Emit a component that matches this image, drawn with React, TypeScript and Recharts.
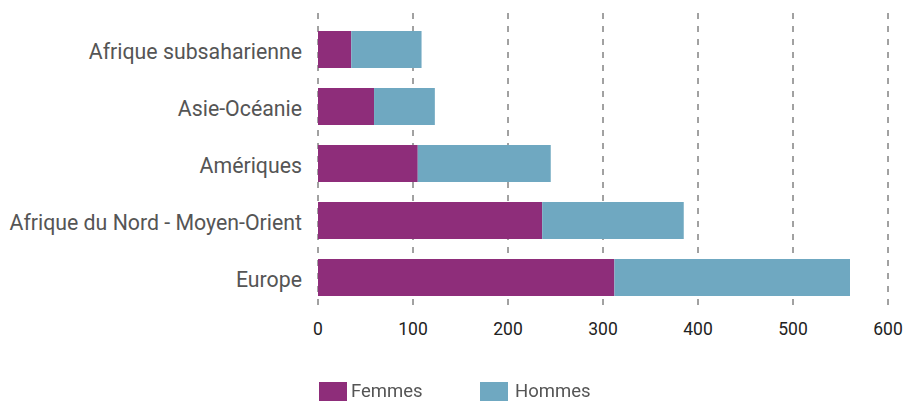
import { BarChart, Bar, XAxis, YAxis, CartesianGrid } from 'recharts';

const regions = [
  'Afrique subsaharienne',
  'Asie-Océanie',
  'Amériques',
  'Afrique du Nord - Moyen-Orient',
  'Europe',
];
const femmes = [35, 59, 105, 236, 312];
const hommes = [74, 64, 140, 149, 248];
const xTicks = [0, 100, 200, 300, 400, 500, 600];

const FEMMES_COLOR = '#8E2D7A';
const HOMMES_COLOR = '#6FA8C1';
const FONT = 'Roboto, "Noto Sans", sans-serif';

const data = regions.map((name, i) => ({
  name,
  femmes: femmes[i],
  hommes: hommes[i],
}));

const legendItems = [
  { label: 'Femmes', color: FEMMES_COLOR, left: 319, textLeft: 351 },
  { label: 'Hommes', color: HOMMES_COLOR, left: 480, textLeft: 515 },
];

export default function App() {
  return (
    <div style={{ position: 'fixed', top: 0, left: 0, width: 905, height: 401, fontFamily: FONT, background: '#fff' }}>
      <BarChart
        width={905}
        height={401}
        data={data}
        layout="vertical"
        margin={{ top: 13, right: 17, left: 0, bottom: 59 }}
      >
        <CartesianGrid vertical horizontal={false} stroke="#444" strokeDasharray="6 7" />
        <XAxis
          type="number"
          domain={[0, 600]}
          ticks={xTicks}
          axisLine={false}
          tickLine={false}
          tickMargin={5}
          tick={{ fontSize: 17.5, fill: '#222', fontFamily: FONT }}
        />
        <YAxis
          type="category"
          dataKey="name"
          width={318}
          axisLine={false}
          tickLine={false}
          tickMargin={10}
          padding={{ top: 8, bottom: 6 }}
          tick={{ fontSize: 21.3, fill: '#555', fontFamily: FONT, dy: 2 }}
        />
        <Bar dataKey="femmes" stackId="a" fill={FEMMES_COLOR} barSize={37} isAnimationActive={false} />
        <Bar dataKey="hommes" stackId="a" fill={HOMMES_COLOR} barSize={37} isAnimationActive={false} />
      </BarChart>
      {legendItems.map((item) => (
        <div key={item.label}>
          <span
            style={{ position: 'absolute', left: item.left, top: 382, width: 28, height: 19, background: item.color }}
          />
          <span
            style={{ position: 'absolute', left: item.textLeft, top: 380, fontSize: 18.5, color: '#555', lineHeight: '22px' }}
          >
            {item.label}
          </span>
        </div>
      ))}
    </div>
  );
}
